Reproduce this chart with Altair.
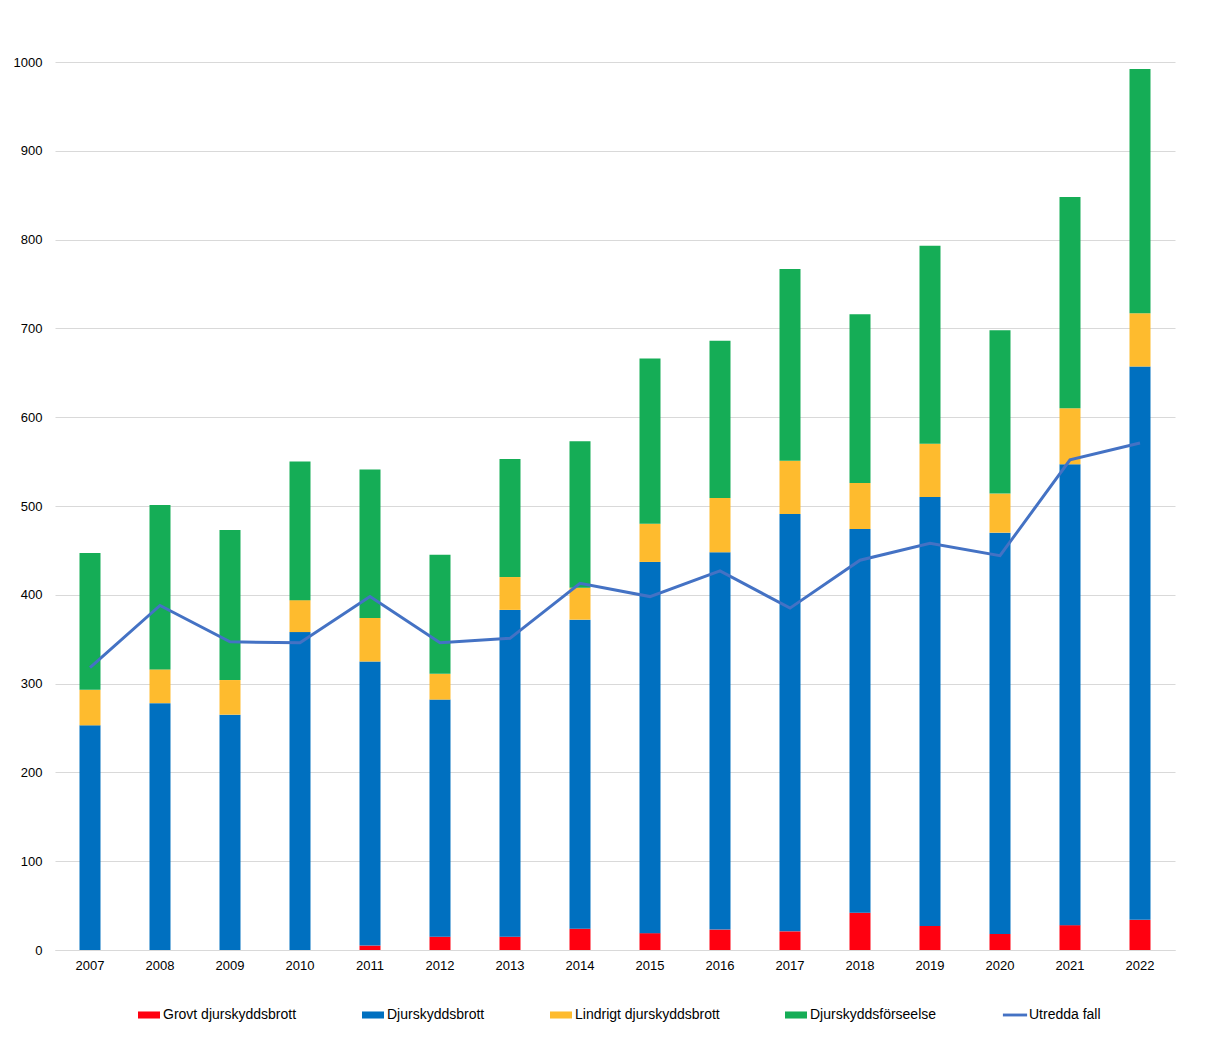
import altair as alt
import pandas as pd

years = [str(y) for y in range(2007, 2023)]
grovt = [0, 0, 0, 0, 5, 15, 15, 24, 19, 23, 21, 42, 27, 18, 28, 34]
djurskyddsbrott = [253, 278, 265, 358, 320, 267, 368, 348, 418, 425, 470, 432, 483, 452, 519, 623]
lindrigt = [40, 38, 39, 36, 49, 29, 37, 36, 43, 61, 60, 52, 60, 44, 63, 60]
forseelse = [154, 185, 169, 156, 167, 134, 133, 165, 186, 177, 216, 190, 223, 184, 238, 275]
utredda = [318, 388, 347, 346, 398, 346, 351, 413, 398, 427, 385, 439, 458, 444, 552, 571]

series = ["Grovt djurskyddsbrott", "Djurskyddsbrott", "Lindrigt djurskyddsbrott",
          "Djurskyddsförseelse", "Utredda fall"]
colors = ["#FF0010", "#0070C0", "#FEBB2E", "#15AD56", "#4472C4"]

rows = []
for i, y in enumerate(years):
    for k, vals in enumerate([grovt, djurskyddsbrott, lindrigt, forseelse]):
        rows.append({"year": y, "serie": series[k], "value": vals[i], "ord": k})
bars_df = pd.DataFrame(rows)
line_df = pd.DataFrame({"year": years, "value": utredda})

FONT = "Liberation Sans"

x_enc = alt.X("year:O", title=None,
              scale=alt.Scale(paddingInner=0.7, paddingOuter=0.35),
              axis=alt.Axis(labelAngle=0, ticks=False, domainColor="#D9D9D9",
                            labelFontSize=13, labelFont=FONT, labelColor="#000000",
                            labelPadding=9))
y_enc = alt.Y("value:Q", title=None,
              scale=alt.Scale(domain=[0, 1000], nice=False),
              axis=alt.Axis(values=list(range(0, 1001, 100)), format="d", ticks=False,
                            domain=False, gridColor="#D9D9D9", labelFontSize=13,
                            labelFont=FONT, labelColor="#000000", labelPadding=13))


def build(legend):
    bars = alt.Chart(bars_df).mark_bar().encode(
        x=x_enc,
        y=y_enc,
        color=alt.Color("serie:N", scale=alt.Scale(domain=series, range=colors), legend=legend),
        order=alt.Order("ord:Q", sort="ascending"),
    )
    line = alt.Chart(line_df).mark_line(color="#4472C4", strokeWidth=3).encode(
        x=alt.X("year:O"),
        y=alt.Y("value:Q"),
    )
    return alt.layer(bars, line).properties(
        width=1120, height=888,
        autosize=alt.AutoSizeParams(type="none"),
        padding={"left": 47, "top": 54, "right": 37, "bottom": 80},
    ).configure_view(stroke=None)


common = dict(title=None, orient="none", legendX=83, legendY=942, direction="horizontal",
              columns=5, columnPadding=65, labelFontSize=14, labelFont=FONT,
              labelColor="#000000", symbolSize=484, symbolStrokeWidth=0, labelOffset=3,
              padding=0)

try:
    chart = build(alt.Legend(
        symbolType={"expr": "datum.value === 'Utredda fall' ? 'M-1.1,-0.13H1.1V0.13H-1.1Z' : 'M-1,-0.32H1V0.32H-1Z'"},
        **common))
    chart.to_dict()
except Exception:
    chart = build(alt.Legend(symbolType="M-1,-0.32H1V0.32H-1Z", **common))

chart.save("out.html", embed_options={"renderer": "svg", "actions": False})
